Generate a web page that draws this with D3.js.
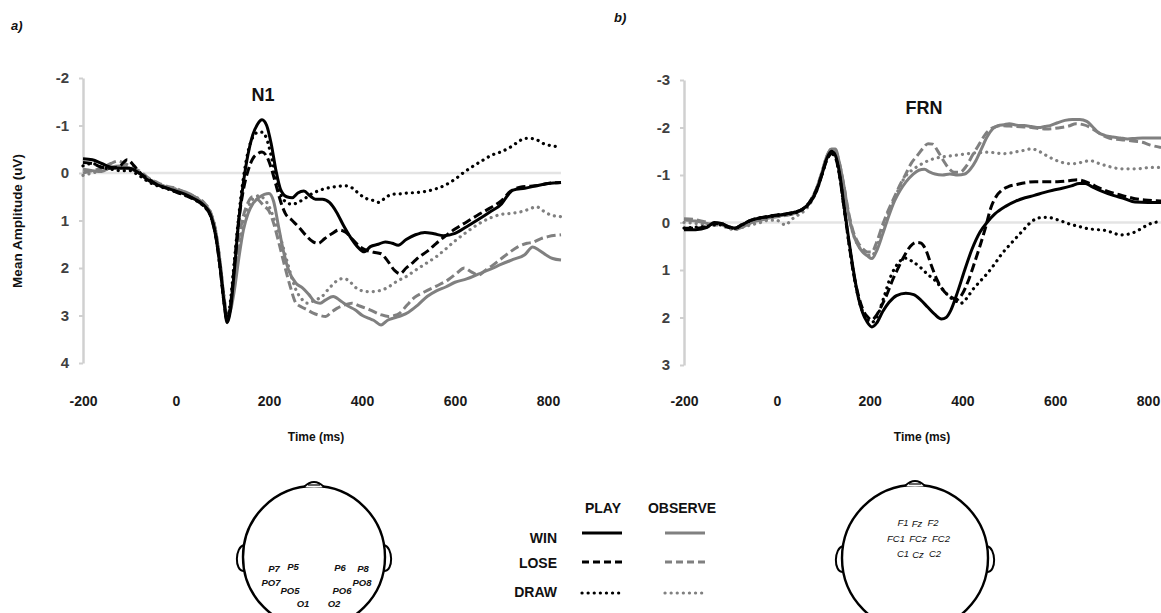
<!DOCTYPE html>
<html>
<head>
<meta charset="utf-8">
<script src="https://cdn.jsdelivr.net/npm/d3@7"></script>
<style>
  body { margin: 0; background: #fff; }
  svg { display: block; font-family: "Liberation Sans", Arial, sans-serif; }
</style>
</head>
<body>
<script>
// ---- data (time in ms, amplitude in uV; positive plotted downward) ----
const xTicks = [-200, 0, 200, 400, 600, 800];
const yTicksA = [-2, -1, 0, 1, 2, 3, 4];
const yTicksB = [-3, -2, -1, 0, 1, 2, 3];
const outcomes = ["WIN", "LOSE", "DRAW"];
const conditions = ["PLAY", "OBSERVE"];

// panel a) N1
const aPlayWin = [[-200,-0.3],[-180,-0.28],[-160,-0.2],[-140,-0.12],[-120,-0.1],[-100,-0.1],[-80,0.0],[-60,0.15],[-40,0.25],[-20,0.32],[0,0.38],[20,0.45],[40,0.55],[60,0.68],[75,0.9],[85,1.3],[95,2.0],[103,2.7],[110,3.15],[117,2.9],[125,2.1],[135,1.0],[145,0.2],[155,-0.4],[165,-0.8],[175,-1.02],[185,-1.12],[195,-1.0],[205,-0.6],[215,-0.05],[225,0.35],[238,0.5],[250,0.52],[262,0.42],[275,0.38],[288,0.48],[300,0.55],[315,0.55],[330,0.62],[345,0.82],[360,1.1],[375,1.35],[390,1.55],[405,1.66],[418,1.55],[435,1.5],[450,1.45],[465,1.48],[478,1.52],[495,1.4],[515,1.3],[535,1.25],[555,1.28],[575,1.32],[600,1.27],[625,1.13],[650,0.98],[675,0.82],[700,0.65],[715,0.45],[725,0.36],[750,0.32],[775,0.27],[800,0.22],[828,0.2]];
const aPlayLose = [[-200,-0.22],[-180,-0.2],[-160,-0.12],[-140,-0.1],[-120,-0.15],[-105,-0.28],[-90,-0.15],[-75,0.02],[-60,0.12],[-40,0.25],[-20,0.32],[0,0.4],[20,0.47],[40,0.56],[60,0.7],[75,0.92],[85,1.3],[95,2.0],[103,2.7],[110,3.1],[117,2.8],[125,2.0],[135,1.0],[145,0.35],[155,-0.05],[165,-0.3],[175,-0.4],[185,-0.44],[195,-0.35],[205,-0.1],[215,0.25],[225,0.6],[235,0.85],[250,1.0],[265,1.15],[280,1.32],[295,1.45],[306,1.48],[320,1.38],[335,1.28],[350,1.2],[365,1.25],[380,1.4],[395,1.55],[410,1.63],[425,1.67],[441,1.7],[455,1.85],[470,2.05],[482,2.12],[495,2.0],[510,1.88],[525,1.75],[540,1.65],[560,1.48],[580,1.32],[600,1.18],[625,1.03],[650,0.88],[675,0.74],[700,0.58],[720,0.38],[740,0.3],[760,0.28],[780,0.26],[800,0.22],[828,0.2]];
const aPlayDraw = [[-200,-0.15],[-180,-0.2],[-160,-0.12],[-140,-0.08],[-120,-0.05],[-100,-0.05],[-80,0.05],[-60,0.18],[-40,0.27],[-20,0.33],[0,0.4],[20,0.47],[40,0.56],[60,0.7],[75,0.92],[85,1.3],[95,2.0],[103,2.7],[110,3.1],[117,2.7],[125,1.9],[135,0.9],[145,0.1],[155,-0.45],[165,-0.75],[175,-0.85],[185,-0.86],[195,-0.72],[205,-0.35],[215,0.1],[225,0.45],[238,0.62],[250,0.66],[262,0.62],[275,0.55],[290,0.45],[305,0.38],[320,0.33],[335,0.3],[350,0.28],[365,0.27],[380,0.32],[395,0.45],[410,0.54],[425,0.58],[437,0.62],[450,0.52],[465,0.45],[480,0.44],[500,0.42],[520,0.41],[540,0.38],[560,0.33],[580,0.25],[600,0.13],[620,-0.02],[640,-0.15],[660,-0.27],[680,-0.38],[700,-0.45],[720,-0.55],[735,-0.65],[750,-0.73],[770,-0.72],[790,-0.62],[810,-0.57],[828,-0.55]];
const aObsWin = [[-200,-0.08],[-180,-0.05],[-160,-0.03],[-140,-0.12],[-120,-0.15],[-100,-0.1],[-80,0.0],[-60,0.12],[-40,0.22],[-20,0.3],[0,0.35],[20,0.4],[40,0.5],[60,0.65],[75,0.85],[85,1.2],[95,1.9],[103,2.6],[110,3.0],[117,2.9],[125,2.5],[135,1.8],[145,1.2],[155,0.85],[165,0.65],[178,0.52],[190,0.45],[200,0.43],[210,0.6],[220,1.1],[230,1.6],[242,2.04],[258,2.32],[272,2.42],[285,2.55],[300,2.72],[310,2.74],[322,2.67],[338,2.6],[355,2.7],[370,2.8],[385,2.88],[401,3.0],[415,3.06],[425,3.1],[441,3.2],[455,3.1],[470,3.05],[485,3.0],[500,2.93],[520,2.78],[540,2.6],[560,2.48],[580,2.4],[600,2.3],[625,2.23],[650,2.13],[675,2.03],[700,1.92],[725,1.82],[750,1.72],[767,1.56],[780,1.62],[795,1.72],[810,1.8],[828,1.83]];
const aObsLose = [[-200,0.0],[-180,-0.05],[-160,-0.1],[-140,-0.2],[-125,-0.25],[-110,-0.2],[-90,-0.1],[-75,-0.02],[-60,0.1],[-40,0.2],[-20,0.28],[0,0.32],[20,0.42],[40,0.5],[60,0.62],[75,0.85],[85,1.2],[95,1.9],[103,2.6],[110,3.0],[117,2.8],[125,2.2],[135,1.4],[145,0.9],[155,0.62],[165,0.5],[175,0.55],[190,0.7],[200,0.8],[210,1.06],[222,1.5],[234,1.97],[246,2.4],[258,2.74],[270,2.82],[282,2.88],[295,2.95],[306,2.99],[322,3.02],[334,2.93],[346,2.85],[362,2.78],[378,2.74],[395,2.8],[417,2.88],[440,2.98],[457,3.02],[470,3.0],[481,2.95],[497,2.78],[513,2.62],[535,2.5],[560,2.38],[585,2.25],[605,2.1],[620,2.0],[635,2.08],[650,2.15],[665,2.05],[680,1.95],[696,1.83],[716,1.68],[736,1.55],[755,1.48],[767,1.46],[785,1.38],[800,1.34],[828,1.3]];
const aObsDraw = [[-200,0.05],[-180,0.0],[-160,-0.05],[-140,-0.1],[-120,-0.12],[-100,-0.08],[-80,0.0],[-60,0.12],[-40,0.22],[-20,0.3],[0,0.34],[20,0.42],[40,0.5],[60,0.63],[75,0.85],[85,1.2],[95,1.9],[103,2.6],[110,3.0],[117,2.8],[125,2.3],[135,1.6],[145,1.05],[155,0.72],[165,0.55],[178,0.48],[190,0.55],[200,0.7],[212,1.0],[226,1.41],[240,1.9],[258,2.46],[270,2.65],[282,2.74],[298,2.68],[314,2.6],[330,2.42],[346,2.27],[360,2.22],[372,2.27],[385,2.4],[400,2.48],[417,2.5],[441,2.47],[460,2.38],[475,2.28],[495,2.18],[513,2.06],[535,1.92],[560,1.76],[580,1.6],[600,1.43],[620,1.28],[640,1.14],[660,1.02],[680,0.93],[700,0.87],[720,0.85],[740,0.82],[760,0.76],[775,0.71],[790,0.8],[805,0.88],[828,0.92]];

// panel b) FRN
const bPlayWin = [[-200,0.15],[-175,0.15],[-150,0.1],[-135,0.0],[-120,0.02],[-105,0.08],[-90,0.12],[-75,0.05],[-55,-0.05],[-35,-0.1],[-15,-0.13],[0,-0.15],[20,-0.18],[40,-0.22],[55,-0.28],[70,-0.4],[85,-0.65],[97,-1.0],[108,-1.35],[118,-1.5],[126,-1.42],[135,-1.05],[145,-0.35],[155,0.35],[165,1.0],[175,1.55],[185,1.9],[195,2.1],[205,2.2],[215,2.12],[228,1.88],[242,1.68],[258,1.54],[278,1.49],[295,1.52],[310,1.63],[325,1.78],[340,1.93],[355,2.03],[365,2.0],[375,1.85],[390,1.45],[405,1.0],[420,0.58],[438,0.2],[453,0.0],[470,-0.18],[493,-0.34],[515,-0.45],[535,-0.52],[555,-0.57],[575,-0.63],[595,-0.68],[615,-0.72],[635,-0.77],[652,-0.82],[665,-0.82],[680,-0.75],[700,-0.66],[725,-0.57],[750,-0.5],[772,-0.43],[800,-0.42],[828,-0.42]];
const bPlayLose = [[-200,0.12],[-175,0.12],[-150,0.08],[-135,0.02],[-120,0.02],[-105,0.1],[-90,0.12],[-75,0.04],[-55,-0.05],[-35,-0.1],[-15,-0.14],[0,-0.16],[20,-0.18],[40,-0.22],[55,-0.28],[70,-0.42],[85,-0.68],[97,-1.0],[108,-1.32],[118,-1.45],[126,-1.38],[135,-1.0],[145,-0.3],[155,0.4],[165,1.05],[175,1.5],[185,1.82],[195,1.98],[205,2.05],[215,1.95],[226,1.75],[238,1.5],[250,1.2],[262,0.95],[275,0.7],[288,0.5],[300,0.42],[310,0.43],[320,0.55],[333,0.9],[345,1.2],[358,1.42],[372,1.55],[389,1.62],[400,1.5],[413,1.22],[425,0.88],[437,0.52],[450,0.1],[461,-0.3],[473,-0.55],[485,-0.68],[500,-0.76],[517,-0.8],[537,-0.84],[557,-0.86],[580,-0.86],[605,-0.86],[630,-0.88],[648,-0.9],[665,-0.86],[680,-0.8],[692,-0.74],[712,-0.66],[732,-0.6],[752,-0.55],[772,-0.5],[800,-0.47],[828,-0.45]];
const bPlayDraw = [[-200,0.12],[-175,0.1],[-150,0.08],[-135,0.05],[-120,0.05],[-105,0.1],[-90,0.12],[-75,0.05],[-55,-0.05],[-35,-0.1],[-15,-0.12],[0,-0.15],[20,-0.17],[40,-0.2],[55,-0.27],[70,-0.4],[85,-0.65],[97,-1.0],[108,-1.33],[118,-1.45],[126,-1.38],[135,-1.0],[145,-0.3],[155,0.4],[165,1.05],[175,1.55],[185,1.88],[195,2.05],[205,2.1],[215,2.0],[230,1.6],[245,1.15],[262,0.85],[278,0.75],[292,0.82],[310,0.95],[326,1.1],[341,1.22],[357,1.4],[373,1.57],[385,1.65],[397,1.7],[409,1.6],[421,1.43],[437,1.25],[453,1.08],[469,0.88],[485,0.66],[501,0.48],[517,0.31],[533,0.14],[549,-0.02],[562,-0.09],[575,-0.11],[590,-0.1],[610,-0.04],[630,0.03],[650,0.08],[670,0.13],[690,0.15],[710,0.17],[725,0.22],[740,0.26],[755,0.25],[772,0.2],[790,0.1],[804,0.03],[828,-0.02]];
const bObsWin = [[-200,-0.05],[-175,-0.03],[-150,0.02],[-135,0.05],[-120,0.02],[-105,0.08],[-90,0.12],[-75,0.1],[-55,0.0],[-35,-0.05],[-15,-0.1],[0,-0.13],[20,-0.16],[40,-0.2],[55,-0.27],[70,-0.42],[85,-0.7],[97,-1.05],[108,-1.4],[118,-1.55],[126,-1.55],[135,-1.25],[145,-0.75],[155,-0.15],[165,0.25],[175,0.48],[185,0.62],[195,0.7],[205,0.76],[215,0.6],[228,0.25],[240,-0.1],[254,-0.46],[266,-0.68],[278,-0.85],[294,-1.02],[306,-1.1],[318,-1.12],[330,-1.06],[341,-1.02],[357,-1.0],[373,-1.02],[390,-1.0],[405,-1.02],[417,-1.12],[429,-1.3],[441,-1.55],[453,-1.8],[465,-1.97],[477,-2.04],[490,-2.06],[501,-2.08],[517,-2.05],[533,-2.04],[549,-2.02],[565,-2.0],[577,-2.02],[589,-2.04],[605,-2.1],[621,-2.15],[637,-2.17],[653,-2.17],[668,-2.13],[680,-2.02],[692,-1.9],[708,-1.83],[724,-1.8],[740,-1.78],[756,-1.76],[772,-1.77],[788,-1.78],[828,-1.78]];
const bObsLose = [[-200,-0.08],[-175,-0.06],[-150,0.0],[-135,0.05],[-120,0.05],[-105,0.1],[-90,0.14],[-75,0.1],[-55,0.0],[-35,-0.05],[-15,-0.1],[0,-0.12],[20,-0.15],[40,-0.2],[55,-0.27],[70,-0.42],[85,-0.7],[97,-1.05],[108,-1.4],[118,-1.55],[126,-1.52],[135,-1.25],[145,-0.75],[155,-0.2],[165,0.2],[175,0.42],[185,0.55],[195,0.62],[205,0.62],[215,0.42],[228,0.05],[240,-0.25],[254,-0.55],[266,-0.8],[278,-1.02],[290,-1.25],[302,-1.4],[314,-1.55],[326,-1.66],[336,-1.65],[346,-1.52],[358,-1.32],[370,-1.15],[382,-1.06],[395,-1.06],[408,-1.18],[422,-1.42],[437,-1.66],[449,-1.85],[461,-1.97],[473,-2.02],[485,-2.04],[501,-2.03],[517,-2.02],[533,-2.01],[549,-2.0],[565,-1.98],[581,-1.97],[597,-1.98],[613,-2.0],[629,-2.03],[645,-2.08],[660,-2.06],[672,-2.02],[684,-1.95],[700,-1.85],[716,-1.78],[732,-1.75],[756,-1.73],[772,-1.71],[788,-1.69],[805,-1.63],[828,-1.58]];
const bObsDraw = [[-200,0.0],[-175,0.02],[-150,0.05],[-135,0.0],[-120,0.05],[-105,0.12],[-90,0.15],[-75,0.1],[-55,0.05],[-35,0.0],[-15,-0.05],[0,-0.05],[10,0.02],[20,0.05],[30,-0.05],[45,-0.15],[60,-0.25],[72,-0.4],[85,-0.68],[97,-1.02],[108,-1.35],[118,-1.5],[126,-1.48],[135,-1.2],[145,-0.7],[155,-0.15],[165,0.25],[175,0.48],[185,0.6],[195,0.68],[205,0.7],[215,0.52],[228,0.15],[240,-0.2],[254,-0.5],[266,-0.78],[278,-0.98],[294,-1.12],[310,-1.22],[326,-1.3],[341,-1.35],[357,-1.38],[373,-1.4],[389,-1.42],[405,-1.44],[421,-1.46],[437,-1.47],[453,-1.48],[469,-1.47],[485,-1.45],[501,-1.46],[517,-1.49],[533,-1.52],[549,-1.55],[565,-1.5],[581,-1.41],[597,-1.33],[613,-1.27],[629,-1.24],[645,-1.24],[661,-1.28],[676,-1.3],[692,-1.25],[708,-1.2],[724,-1.16],[740,-1.13],[756,-1.13],[772,-1.13],[788,-1.14],[804,-1.16],[828,-1.16]];

// electrode labels
const electrodesA = ["P7", "P5", "P6", "P8", "PO7", "PO5", "PO6", "PO8", "O1", "O2"];
const electrodesB = ["F1", "Fz", "F2", "FC1", "FCz", "FC2", "C1", "Cz", "C2"];

// ---- layout ----
const width = 1161, height = 613;
const svg = d3.select("body").append("svg")
  .attr("width", width)
  .attr("height", height);

const colors = { PLAY: "#000000", OBSERVE: "#808080" };
const dashes = { WIN: null, LOSE: "9,4", DRAW: "0.1,6" };

function styleLine(sel, cond, outc) {
  sel.attr("fill", "none")
    .attr("stroke", colors[cond])
    .attr("stroke-width", outc === "DRAW" ? 3.2 : 3)
    .attr("stroke-dasharray", dashes[outc])
    .attr("stroke-linecap", outc === "DRAW" ? "round" : "butt")
    .attr("stroke-linejoin", "round");
}

function drawPanel(p) {
  const x = d3.scaleLinear().domain([-200, 800]).range(p.xRange);
  const y = d3.scaleLinear().domain(p.yDomain).range(p.yRange);
  const g = svg.append("g");

  // zero line
  g.append("line")
    .attr("x1", x(-200)).attr("x2", x(828))
    .attr("y1", y(0)).attr("y2", y(0))
    .attr("stroke", "#e4e4e4").attr("stroke-width", 2.5);

  // y axis
  const ya = g.append("g")
    .attr("transform", `translate(${x(-200)},0)`)
    .call(d3.axisLeft(y).tickValues(p.yTicks).tickSize(4).tickSizeOuter(0)
      .tickPadding(10).tickFormat(d => String(d)));
  ya.select(".domain").attr("stroke", "#d0d0d0").attr("stroke-width", 2.5);
  ya.selectAll(".tick line").attr("stroke", "#d0d0d0").attr("stroke-width", 2);
  ya.selectAll(".tick text")
    .attr("font-size", 15).attr("font-weight", "bold").attr("fill", "#404040")
    .attr("font-family", "Liberation Sans, Arial, sans-serif");

  // x axis (labels only)
  const xa = g.append("g")
    .attr("transform", "translate(0,396)")
    .call(d3.axisBottom(x).tickValues(xTicks).tickSize(0).tickPadding(0)
      .tickFormat(d => String(d)));
  xa.select(".domain").remove();
  xa.selectAll(".tick text")
    .attr("font-size", 14).attr("font-weight", "bold").attr("fill", "#1a1a1a")
    .attr("font-family", "Liberation Sans, Arial, sans-serif");

  // curves
  const line = d3.line()
    .x(d => x(d[0]))
    .y(d => y(d[1]))
    .curve(d3.curveMonotoneX);
  p.series.forEach(s => {
    g.append("path").datum(s.values).attr("d", line).call(styleLine, s.cond, s.outc);
  });

  // component label
  g.append("text")
    .attr("x", p.title[1]).attr("y", p.title[2])
    .attr("text-anchor", "middle")
    .attr("font-size", 18).attr("font-weight", "bold").attr("fill", "#111")
    .text(p.title[0]);

  // x title
  g.append("text")
    .attr("x", p.timeX).attr("y", 441)
    .attr("text-anchor", "middle")
    .attr("font-size", 12).attr("font-weight", "bold").attr("fill", "#111")
    .text("Time (ms)");

  // panel letter
  g.append("text")
    .attr("x", p.letter[1]).attr("y", p.letter[2])
    .attr("font-size", 13).attr("font-weight", "bold").attr("font-style", "italic")
    .attr("fill", "#111")
    .text(p.letter[0]);
}

drawPanel({
  xRange: [83, 548], yDomain: [-2, 4], yRange: [78, 363], yTicks: yTicksA,
  title: ["N1", 263, 101], timeX: 316, letter: ["a)", 11, 30],
  series: [
    { values: aObsDraw, cond: "OBSERVE", outc: "DRAW" },
    { values: aObsLose, cond: "OBSERVE", outc: "LOSE" },
    { values: aObsWin, cond: "OBSERVE", outc: "WIN" },
    { values: aPlayDraw, cond: "PLAY", outc: "DRAW" },
    { values: aPlayLose, cond: "PLAY", outc: "LOSE" },
    { values: aPlayWin, cond: "PLAY", outc: "WIN" }
  ]
});

drawPanel({
  xRange: [684, 1148], yDomain: [-3, 3], yRange: [80, 365], yTicks: yTicksB,
  title: ["FRN", 924, 114], timeX: 922, letter: ["b)", 614, 22],
  series: [
    { values: bObsDraw, cond: "OBSERVE", outc: "DRAW" },
    { values: bObsLose, cond: "OBSERVE", outc: "LOSE" },
    { values: bObsWin, cond: "OBSERVE", outc: "WIN" },
    { values: bPlayDraw, cond: "PLAY", outc: "DRAW" },
    { values: bPlayLose, cond: "PLAY", outc: "LOSE" },
    { values: bPlayWin, cond: "PLAY", outc: "WIN" }
  ]
});

// y-axis title (only on panel a)
svg.append("text")
  .attr("transform", "translate(22,221) rotate(-90)")
  .attr("text-anchor", "middle")
  .attr("font-size", 13.5).attr("font-weight", "bold").attr("fill", "#111")
  .text("Mean Amplitude (uV)");

// ---- legend ----
const legend = svg.append("g");
const colX = { PLAY: [582, 622, 603], OBSERVE: [665, 705, 682] };
const rowY = { WIN: [538, 533], LOSE: [563, 562], DRAW: [592, 593] };
conditions.forEach(c => {
  legend.append("text")
    .attr("x", colX[c][2]).attr("y", 513)
    .attr("text-anchor", "middle")
    .attr("font-size", 14).attr("font-weight", "bold").attr("fill", "#111")
    .text(c);
});
outcomes.forEach(o => {
  legend.append("text")
    .attr("x", 557).attr("y", rowY[o][0] + 5)
    .attr("text-anchor", "end")
    .attr("font-size", 14).attr("font-weight", "bold").attr("fill", "#111")
    .text(o);
  conditions.forEach(c => {
    legend.append("line")
      .attr("x1", colX[c][0]).attr("x2", colX[c][1])
      .attr("y1", rowY[o][1]).attr("y2", rowY[o][1])
      .call(styleLine, c, o)
      .attr("stroke-dasharray", o === "LOSE" ? "7,4" : dashes[o]);
  });
});

// ---- head diagrams ----
function drawHead(cx, cy, r, names, offsets, bold) {
  const h = svg.append("g");
  h.append("circle").attr("cx", cx).attr("cy", cy).attr("r", r)
    .attr("fill", "none").attr("stroke", "#000").attr("stroke-width", 2.4);
  const top = cy - r;
  // nose
  h.append("path")
    .attr("d", `M${cx - 10},${top + 1} Q${cx},${top - 9} ${cx + 10},${top + 1}`)
    .attr("fill", "#fff").attr("stroke", "#000").attr("stroke-width", 2);
  h.append("line")
    .attr("x1", cx - 6).attr("x2", cx + 6).attr("y1", top - 1).attr("y2", top - 1)
    .attr("stroke", "#000").attr("stroke-width", 1.2);
  // ears
  [-1, 1].forEach(sd => {
    const ex = cx + sd * (r - 1);
    h.append("path")
      .attr("d", `M${ex},${cy - 12} C${ex + sd * 9},${cy - 10} ${ex + sd * 10},${cy + 14} ${ex},${cy + 14}`)
      .attr("fill", "none").attr("stroke", "#000").attr("stroke-width", 2);
  });
  // electrode labels
  h.selectAll("text.el").data(names).enter().append("text")
    .attr("class", "el")
    .attr("x", (d, i) => cx + offsets[i][0])
    .attr("y", (d, i) => cy + offsets[i][1] + 3.5)
    .attr("text-anchor", "middle")
    .attr("font-size", 9.5).attr("font-style", "italic")
    .attr("font-weight", bold ? "bold" : "normal")
    .attr("fill", "#111")
    .text(d => d);
}

drawHead(314, 557, 71, electrodesA,
  [[-40, 11], [-21, 9], [26, 10], [49, 11], [-43, 25], [-24, 33], [28, 33], [48, 25], [-11, 46], [20, 46]], true);
drawHead(915, 558, 73, electrodesB,
  [[-12, -36], [2, -35], [18, -36], [-19, -20], [3, -20], [26, -20], [-12, -5], [3, -4], [20, -5]], false);
</script>
</body>
</html>
